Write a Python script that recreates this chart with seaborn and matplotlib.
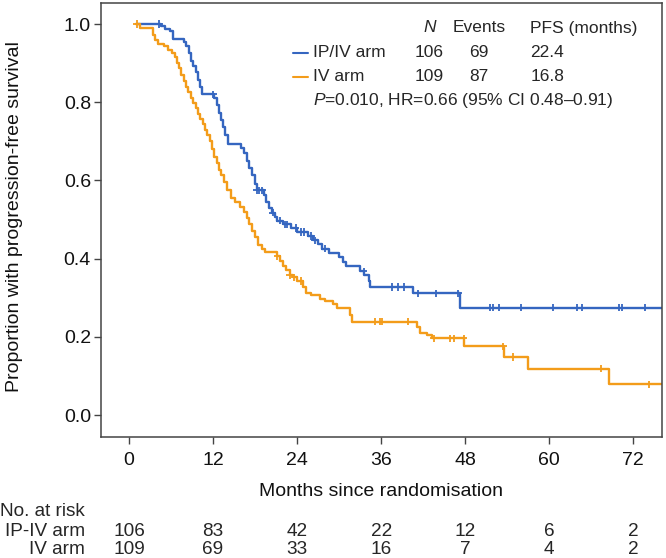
import numpy as np
import pandas as pd
import matplotlib
matplotlib.use("Agg")
import matplotlib.pyplot as plt
import seaborn as sns
from matplotlib.lines import Line2D
import matplotlib.transforms as mtransforms

# ---------------- data ----------------
arms = ["IP/IV arm", "IV arm"]
colors = ["#3566C0", "#F39C1A"]

# step curves: time (months) at which survival changes, and new survival value
ipiv_t = [1.0, 4.5, 5.2, 5.9, 6.3, 7.9, 8.2, 8.5, 8.8, 9.1, 9.5, 9.8, 10.1, 10.4,
          12.2, 12.5, 12.8, 13.1, 13.4, 13.7, 14.1, 16.0, 16.4, 16.8, 17.2, 17.6,
          18.0, 18.3, 19.3, 19.6, 20.0, 20.4, 20.8, 21.2, 22.0, 23.2, 24.0, 25.6,
          26.3, 27.0, 27.6, 28.5, 30.0, 30.5, 31.0, 33.0, 33.6, 34.2, 34.4, 40.6,
          47.2, 76.5]
ipiv_s = [1.0, 0.994, 0.987, 0.981, 0.962, 0.953, 0.943, 0.925, 0.906, 0.892, 0.877,
          0.858, 0.840, 0.820, 0.811, 0.792, 0.773, 0.755, 0.736, 0.717, 0.693,
          0.684, 0.670, 0.650, 0.632, 0.613, 0.590, 0.575, 0.563, 0.545, 0.530,
          0.518, 0.507, 0.497, 0.488, 0.478, 0.468, 0.458, 0.447, 0.437, 0.426,
          0.415, 0.404, 0.391, 0.380, 0.368, 0.357, 0.343, 0.328, 0.311, 0.275,
          0.275]
iv_t = [1.0, 1.6, 3.4, 3.7, 4.2, 5.0, 5.5, 6.1, 6.5, 6.8, 7.1, 7.4, 7.8, 8.1, 8.4,
        8.8, 9.1, 9.5, 9.8, 10.2, 10.5, 10.8, 11.2, 11.5, 11.8, 12.1, 12.5, 12.9,
        13.2, 13.6, 14.0, 14.5, 15.2, 15.8, 16.4, 16.8, 17.2, 17.6, 18.0, 18.4,
        19.0, 19.4, 21.2, 21.6, 22.0, 22.4, 23.0, 23.4, 24.0, 24.9, 25.3, 26.0,
        27.2, 28.0, 29.1, 29.7, 31.5, 31.9, 41.1, 41.5, 42.5, 43.3, 47.9, 53.6,
        56.9, 68.6, 76.5]
iv_s = [1.0, 0.991, 0.973, 0.960, 0.950, 0.943, 0.934, 0.925, 0.915, 0.900, 0.887,
        0.870, 0.855, 0.840, 0.825, 0.810, 0.798, 0.785, 0.770, 0.758, 0.745,
        0.730, 0.716, 0.700, 0.680, 0.660, 0.645, 0.628, 0.614, 0.595, 0.575,
        0.556, 0.545, 0.532, 0.520, 0.505, 0.488, 0.470, 0.455, 0.436, 0.425,
        0.418, 0.407, 0.394, 0.381, 0.370, 0.358, 0.352, 0.343, 0.327, 0.312,
        0.306, 0.298, 0.292, 0.284, 0.273, 0.257, 0.239, 0.226, 0.209, 0.204,
        0.196, 0.176, 0.149, 0.119, 0.079, 0.079]

# censoring times
ipiv_cens = [4.3, 12.0, 18.3, 18.6, 19.0, 20.5, 21.5, 22.3, 22.6, 23.8, 24.5, 25.0,
             26.0, 26.5, 28.0, 33.5, 37.6, 38.4, 39.3, 41.2, 43.8, 47.0, 51.6, 52.0,
             52.8, 55.9, 60.6, 64.0, 64.7, 69.9, 70.4, 73.7]
iv_cens = [1.1, 21.2, 23.0, 23.6, 24.5, 35.1, 35.9, 36.1, 39.9, 43.5, 45.9, 46.4,
           47.8, 53.4, 54.8, 67.4, 74.2]

x_ticks = [0, 12, 24, 36, 48, 60, 72]
y_ticks = [0.0, 0.2, 0.4, 0.6, 0.8, 1.0]
risk_labels = ["IP-IV arm", "IV arm"]
risk_ipiv = [106, 83, 42, 22, 12, 6, 2]
risk_iv = [109, 69, 33, 16, 7, 4, 2]

n_pat = [106, 109]
n_events = [69, 87]
pfs_median = ["22.4", "16.8"]
stat_text = r"$\it{P}$=0.010, HR=0.66 (95% CI 0.48–0.91)"

# ---------------- build tables ----------------
curve_df = pd.concat([
    pd.DataFrame({"month": ipiv_t, "surv": ipiv_s, "arm": arms[0]}),
    pd.DataFrame({"month": iv_t, "surv": iv_s, "arm": arms[1]}),
], ignore_index=True)


def surv_at(times, surv, c):
    idx = np.searchsorted(np.asarray(times), np.asarray(c), side="right") - 1
    return np.asarray(surv)[idx]


cens_df = pd.concat([
    pd.DataFrame({"month": ipiv_cens, "surv": surv_at(ipiv_t, ipiv_s, ipiv_cens), "arm": arms[0]}),
    pd.DataFrame({"month": iv_cens, "surv": surv_at(iv_t, iv_s, iv_cens), "arm": arms[1]}),
], ignore_index=True)

# ---------------- style ----------------
sns.set_style("ticks")
plt.rcParams["font.family"] = ["Liberation Sans", "DejaVu Sans"]
plt.rcParams["mathtext.fontset"] = "custom"
plt.rcParams["mathtext.rm"] = "Liberation Sans"
plt.rcParams["mathtext.it"] = "Liberation Sans:italic"

W, H = 666, 558
fig = plt.figure(figsize=(W / 100, H / 100), dpi=100)
ax_left, ax_right, ax_top, ax_bottom = 100.7, 662.0, 3.3, 437.0
ax = fig.add_axes([ax_left / W, 1 - ax_bottom / H, (ax_right - ax_left) / W, (ax_bottom - ax_top) / H])

palette = dict(zip(arms, colors))
sns.lineplot(data=curve_df, x="month", y="surv", hue="arm", palette=palette,
             drawstyle="steps-post", estimator=None, legend=False, lw=1.7, ax=ax)
sns.scatterplot(data=cens_df, x="month", y="surv", hue="arm", palette=palette,
                marker="+", s=28, linewidth=1.3, legend=False, ax=ax, zorder=3)

ax.set_xlim(-4.04, 76.1)
ax.set_ylim(-0.056, 1.053)
ax.set_xticks(x_ticks)
ax.set_yticks(y_ticks)
ax.set_yticklabels([f"{v:.1f}" for v in y_ticks])
ax.tick_params(axis="y", length=5, width=1.0, color="#444444", pad=2, labelsize=14, labelcolor="#111111")
ax.tick_params(axis="x", length=5, width=1.0, color="#444444", pad=5.5, labelsize=14, labelcolor="#111111")
for sp in ax.spines.values():
    sp.set_visible(True)
    sp.set_color("#444444")
    sp.set_linewidth(1.1)

ax.set_xlabel("Months since randomisation", fontsize=14, color="#111111")
ax.set_ylabel("Proportion with progression-free survival", fontsize=14, color="#111111")
ax.xaxis.label.set_verticalalignment("center")
ax.xaxis.set_label_coords((381 - ax_left) / (ax_right - ax_left), (ax_bottom - 492) / (ax_bottom - ax_top))
ax.yaxis.label.set_verticalalignment("center")
ax.yaxis.set_label_coords((14 - ax_left) / (ax_right - ax_left), (ax_bottom - 217) / (ax_bottom - ax_top))


def fx(px):
    return px / W


def fy(py):
    return 1 - py / H


# ---------------- legend table ----------------
leg_fs = 12.5
fig.text(fx(430), fy(28), "N", style="italic", ha="center", va="center", fontsize=leg_fs)
fig.text(fx(479), fy(28), "Events", ha="center", va="center", fontsize=leg_fs)
fig.text(fx(530), fy(28), "PFS (months)", ha="left", va="center", fontsize=leg_fs)
row_y = [52.7, 76.7]
for i in range(2):
    fig.add_artist(Line2D([fx(293), fx(308)], [fy(row_y[i]), fy(row_y[i])],
                          color=colors[i], lw=1.5, transform=fig.transFigure))
    fig.text(fx(313), fy(row_y[i]), arms[i], ha="left", va="center", fontsize=leg_fs)
    fig.text(fx(429), fy(row_y[i]), str(n_pat[i]), ha="center", va="center", fontsize=leg_fs)
    fig.text(fx(479), fy(row_y[i]), str(n_events[i]), ha="center", va="center", fontsize=leg_fs)
    fig.text(fx(530.5), fy(row_y[i]), pfs_median[i], ha="left", va="center", fontsize=leg_fs)
fig.text(fx(313), fy(100), stat_text, ha="left", va="center", fontsize=leg_fs)

# ---------------- number at risk ----------------
risk_fs = 13.7
fig.text(fx(0.5), fy(512), "No. at risk", ha="left", va="center", fontsize=risk_fs)
blend = mtransforms.blended_transform_factory(ax.transData, fig.transFigure)
for label, counts, py in zip(risk_labels, [risk_ipiv, risk_iv], [531, 550]):
    fig.text(fx(85), fy(py), label, ha="right", va="center", fontsize=risk_fs)
    for t, c in zip(x_ticks, counts):
        ax.text(t, fy(py), str(c), transform=blend, ha="center", va="center",
                fontsize=risk_fs, clip_on=False)

fig.savefig("out.png", dpi=100)
